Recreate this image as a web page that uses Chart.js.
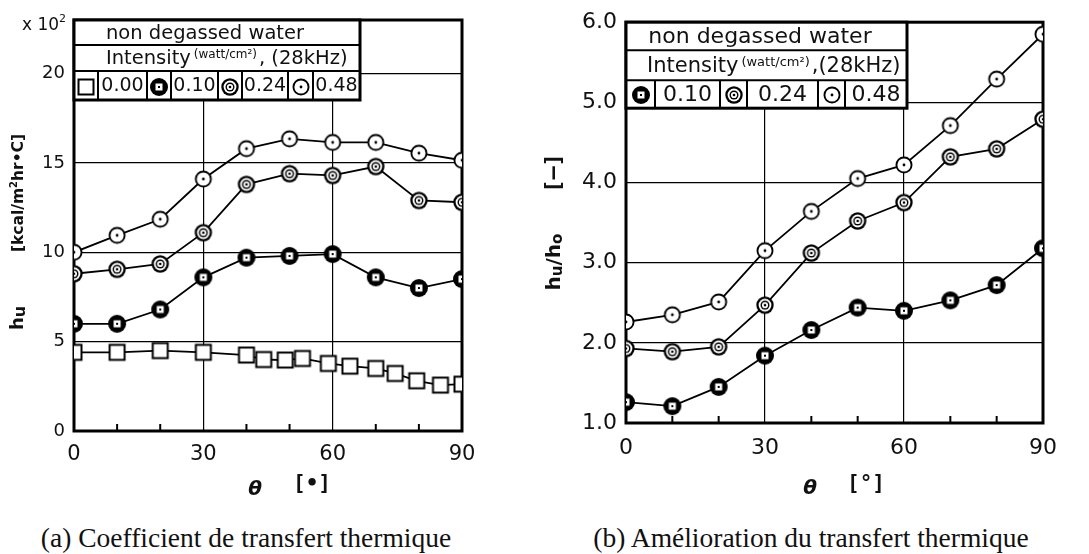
<!DOCTYPE html>
<html><head><meta charset="utf-8">
<script src="https://cdn.jsdelivr.net/npm/chart.js@4.4.0/dist/chart.umd.min.js"></script>
<style>
html,body{margin:0;padding:0;background:#fff;width:1089px;height:554px;overflow:hidden;}
#a{position:absolute;left:0;top:0;width:540px;height:520px;}
#b{position:absolute;left:540px;top:0;width:549px;height:520px;}
.cap{position:absolute;top:524px;line-height:28px;font-family:"Liberation Serif",serif;font-size:27.5px;color:#111;white-space:nowrap;transform:translateX(-50%);}
</style></head><body>
<div id="a"><canvas id="ca"></canvas></div>
<div id="b"><canvas id="cb"></canvas></div>
<div class="cap" style="left:246px">(a) Coefficient de transfert thermique</div>
<div class="cap" style="left:811px">(b) Amélioration du transfert thermique</div>
<script>
// ---------- data ----------
const angles = [0,10,20,30,40,50,60,70,80,90];
const anglesA000 = [0,10,20,30,40,44,49,53,59,64,70,74.5,79.5,85,90];
const hA000 = [4.4,4.4,4.5,4.4,4.25,4.0,3.97,4.06,3.78,3.63,3.5,3.22,2.81,2.57,2.62];
const hA010 = [6.0,6.0,6.8,8.6,9.7,9.8,9.9,8.6,8.0,8.5];
const hA024 = [8.8,9.05,9.35,11.1,13.8,14.4,14.3,14.8,12.9,12.8];
const hA048 = [10.0,10.95,11.85,14.1,15.8,16.35,16.15,16.15,15.55,15.15];
const rB010 = [1.26,1.21,1.45,1.84,2.16,2.44,2.40,2.53,2.72,3.18];
const rB024 = [1.93,1.89,1.95,2.47,3.12,3.52,3.75,4.32,4.42,4.79];
const rB048 = [2.26,2.35,2.51,3.15,3.64,4.05,4.22,4.71,5.29,5.85];
const xTicks = [0,30,60,90];
const xMinor = [10,20,40,50,70,80];
const yTicksA = [0,5,10,15,20];
const yTicksB = [1,2,3,4,5,6];
const intensities = ['0.00','0.10','0.24','0.48'];

// ---------- markers ----------
function mk(type){
  const s=22, c=document.createElement('canvas'); c.width=s; c.height=s;
  const g=c.getContext('2d'), m=s/2;
  const circ=(r,col)=>{g.beginPath();g.arc(m,m,r,0,Math.PI*2);g.fillStyle=col;g.fill();};
  if(type==='sq'){
    g.fillStyle='#fff'; g.fillRect(m-7.5,m-7.5,15,15);
    g.lineWidth=2; g.strokeStyle='#000'; g.strokeRect(m-7.5,m-7.5,15,15);
  } else if(type==='f'){
    circ(9,'#000'); g.fillStyle='#fff'; g.fillRect(m-3.5,m-3.5,7,7); g.fillStyle='#000'; g.fillRect(m-1,m-1,2,2);
  } else if(type==='d'){
    circ(8.7,'#000'); circ(6.4,'#fff'); circ(4.5,'#000'); circ(3.1,'#fff'); circ(1.3,'#000');
  } else {
    circ(8.5,'#000'); circ(6.6,'#fff'); circ(1.4,'#000');
  }
  return c;
}
const M = {sq:mk('sq'), f:mk('f'), d:mk('d'), o:mk('o')};

function ds(xs, ys, img){
  return {data: xs.map((x,i)=>({x:x,y:ys[i]})), pointStyle: img, pointRadius: 9,
    borderColor:'#000', borderWidth:1.8, showLine:true, tension:0, fill:false};
}

function txt(ctx, pieces, cx, cy, rot){
  ctx.save(); ctx.translate(cx,cy); if(rot) ctx.rotate(-Math.PI/2);
  let total=0;
  pieces.forEach(p=>{ctx.font=p.f; p.w=ctx.measureText(p.t).width; total+=p.w;});
  let x=-total/2; ctx.textBaseline='middle'; ctx.textAlign='left'; ctx.fillStyle='#111';
  pieces.forEach(p=>{ctx.font=p.f; ctx.fillText(p.t,x,p.dy||0); x+=p.w;});
  ctx.restore();
}

function table(ctx, L){
  const {x0,y0,w,h,r1,r2,edges,items}=L;
  ctx.save();
  ctx.fillStyle='#fff'; ctx.fillRect(x0,y0,w,h);
  ctx.strokeStyle='#000'; ctx.lineWidth=2;
  const ln=(a,b,c,d)=>{ctx.beginPath();ctx.moveTo(a,b);ctx.lineTo(c,d);ctx.stroke();};
  ln(x0,y0+r1,x0+w,y0+r1); ln(x0,y0+r2,x0+w,y0+r2);
  edges.slice(1,-1).forEach(c=>ln(x0+c,y0+r2,x0+c,y0+h));
  ctx.lineWidth=3; ctx.strokeRect(x0,y0,w,h);
  ctx.fillStyle='#111'; ctx.textBaseline='middle';
  ctx.font=L.f1; ctx.textAlign='center';
  ctx.fillText('non degassed water', x0+L.row1x, y0+r1/2+1);
  let x=x0+L.row2x; const ym=y0+(r1+r2)/2+1;
  ctx.textAlign='left';
  ctx.font=L.f2; ctx.fillText('Intensity',x,ym); x+=ctx.measureText('Intensity').width+3;
  ctx.font=L.fs; ctx.fillText('(watt/cm²)',x,ym-4); x+=ctx.measureText('(watt/cm²)').width+2;
  ctx.font=L.f2; ctx.fillText(L.tail,x,ym);
  const y3=y0+(r2+h)/2+1;
  ctx.font=L.f3; ctx.textAlign='center';
  items.forEach((it,i)=>{
    const a=x0+edges[2*i], b=x0+edges[2*i+1], c=x0+edges[2*i+2];
    ctx.drawImage(it.img, Math.round((a+b)/2-it.img.width/2), Math.round(y3-it.img.height/2));
    ctx.fillText(it.label,(b+c)/2,y3);
  });
  ctx.restore();
}

function decor(extra){
  return {
    id:'decor',
    beforeDatasetsDraw(chart){
      const {ctx, chartArea:a, scales:{x}} = chart;
      ctx.save(); ctx.strokeStyle='#000'; ctx.lineWidth=3;
      ctx.strokeRect(a.left,a.top,a.right-a.left,a.bottom-a.top);
      ctx.lineWidth=2;
      xMinor.forEach(v=>{const px=x.getPixelForValue(v);ctx.beginPath();ctx.moveTo(px,a.bottom);ctx.lineTo(px,a.bottom-7);ctx.stroke();});
      ctx.restore();
    },
    afterDatasetsDraw(chart){ extra(chart); }
  };
}

function scalesCfg(ymin,ymax,yt,yw,yfs,yfmt,xfs,xpad){
  return {
    x:{type:'linear',min:0,max:90,
      afterBuildTicks:s=>{s.ticks=xTicks.map(v=>({value:v}));},
      afterFit:s=>{s.height=40;},
      ticks:{font:{family:'DejaVu Sans',size:xfs},color:'#111',padding:xpad,callback:v=>String(v)},
      grid:{color:c=>(c.tick&&(c.tick.value===30||c.tick.value===60))?'#000':'rgba(0,0,0,0)',lineWidth:1.2,drawTicks:false},
      border:{display:false}},
    y:{type:'linear',min:ymin,max:ymax,
      afterBuildTicks:s=>{s.ticks=yt.map(v=>({value:v}));},
      afterFit:s=>{s.width=yw;},
      ticks:{font:{family:'DejaVu Sans',size:yfs},color:'#111',padding:9,callback:yfmt},
      grid:{color:c=>(c.tick&&c.tick.value>ymin&&c.tick.value<ymax)?'#000':'rgba(0,0,0,0)',lineWidth:1.2,drawTicks:false},
      border:{display:false}}
  };
}

// ---------- chart (a) ----------
new Chart(document.getElementById('ca'),{
  type:'scatter',
  data:{datasets:[ds(anglesA000,hA000,M.sq),ds(angles,hA010,M.f),ds(angles,hA024,M.d),ds(angles,hA048,M.o)]},
  options:{responsive:true,maintainAspectRatio:false,animation:false,
    layout:{padding:{left:0,top:20,right:78,bottom:49}},
    plugins:{legend:{display:false},tooltip:{enabled:false}},
    scales:scalesCfg(0,23,yTicksA,74,18,v=>String(v),21,11)},
  plugins:[decor(chart=>{
    const ctx=chart.ctx, a=chart.chartArea;
    table(ctx,{x0:a.left,y0:a.top,w:286,h:80,r1:25,r2:51,edges:[0,24,73,97,144,168,214,239,286],
      f1:'19.5px "DejaVu Sans"',f2:'19.5px "DejaVu Sans"',fs:'12px "DejaVu Sans"',f3:'19px "DejaVu Sans"',
      row1x:131,row2x:32,tail:', (28kHz)',
      items:[{img:M.sq,label:intensities[0]},{img:M.f,label:intensities[1]},{img:M.d,label:intensities[2]},{img:M.o,label:intensities[3]}]});
    const f=s=>s+'px "DejaVu Sans"';
    txt(ctx,[{t:'x 10',f:f(17)},{t:'2',f:f(11),dy:-7}],44,26,false);
    txt(ctx,[{t:'[kcal/m',f:'bold '+f(15.5)},{t:'2',f:'bold '+f(10),dy:-5},{t:'hr•C]',f:'bold '+f(15.5)}],19,193,true);
    txt(ctx,[{t:'h',f:'bold '+f(18)},{t:'u',f:'bold '+f(16),dy:3}],18,318,true);
    txt(ctx,[{t:'θ',f:'bold italic '+f(20)}],255,490,false);
    txt(ctx,[{t:'[•]',f:'bold 21px "DejaVu Sans Mono"'}],312,485,false);
  })]
});

// ---------- chart (b) ----------
new Chart(document.getElementById('cb'),{
  type:'scatter',
  data:{datasets:[ds(angles,rB010,M.f),ds(angles,rB024,M.d),ds(angles,rB048,M.o)]},
  options:{responsive:true,maintainAspectRatio:false,animation:false,
    layout:{padding:{left:0,top:17,right:46,bottom:57}},
    plugins:{legend:{display:false},tooltip:{enabled:false}},
    scales:scalesCfg(1,6,yTicksB,86,22,v=>Number(v).toFixed(1),22,12)},
  plugins:[decor(chart=>{
    const ctx=chart.ctx, a=chart.chartArea;
    table(ctx,{x0:a.left,y0:a.top,w:281,h:86,r1:28,r2:58,edges:[0,29,94,121,192,219,281],
      f1:'22px "DejaVu Sans"',f2:'21px "DejaVu Sans"',fs:'13px "DejaVu Sans"',f3:'22px "DejaVu Sans"',
      row1x:134,row2x:21,tail:',(28kHz)',
      items:[{img:M.f,label:intensities[1]},{img:M.d,label:intensities[2]},{img:M.o,label:intensities[3]}]});
    const f=s=>s+'px "DejaVu Sans"';
    txt(ctx,[{t:'[–]',f:'bold 22px "DejaVu Sans Mono"'}],14,173,true);
    txt(ctx,[{t:'h',f:'bold '+f(20)},{t:'u',f:'bold '+f(15),dy:3},{t:'/',f:'bold '+f(20)},{t:'h',f:'bold '+f(20)},{t:'o',f:'bold '+f(15),dy:3}],15,262,true);
    txt(ctx,[{t:'θ',f:'bold italic '+f(20)}],270,489,false);
    txt(ctx,[{t:'[°]',f:'bold 21px "DejaVu Sans Mono"'}],326,485,false);
  })]
});
</script>
</body></html>
